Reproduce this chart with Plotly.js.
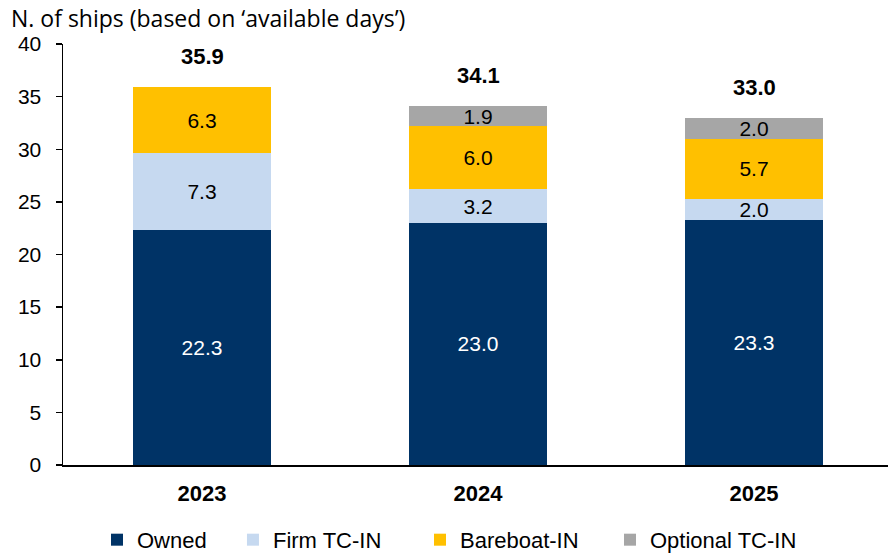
<!DOCTYPE html>
<html>
<head>
<meta charset="utf-8">
<script src="https://cdn.plot.ly/plotly-3.0.1.min.js"></script>
<style>html,body{margin:0;padding:0;background:#fff;}#chart{width:888px;height:553px;}</style>
</head>
<body>
<div id="chart"></div>
<script>
const years = ['2023', '2024', '2025'];
const owned = [22.3, 23.0, 23.3];
const firmTcIn = [7.3, 3.2, 2.0];
const bareboatIn = [6.3, 6.0, 5.7];
const optionalTcIn = [null, 1.9, 2.0];
const totals = [35.9, 34.1, 33.0];
const yTitle = 'N. of ships (based on \u2018available days\u2019)';

const seriesNames = ['Owned', 'Firm TC-IN', 'Bareboat-IN', 'Optional TC-IN'];
const seriesData = [owned, firmTcIn, bareboatIn, optionalTcIn];
const seriesColors = ['#003366', '#c6d9f0', '#ffc000', '#a6a6a6'];
const textColors = ['#ffffff', '#000000', '#000000', '#000000'];
const legendIds = ['legend', 'legend2', 'legend3', 'legend4'];
const legendX = [0.0412, 0.206, 0.4327, 0.663];

const FONT = 'Liberation Sans, Arial, sans-serif';

const traces = seriesData.map((vals, i) => ({
  type: 'bar',
  name: seriesNames[i],
  x: years,
  y: vals,
  legend: legendIds[i],
  marker: {color: seriesColors[i], line: {width: 0}},
  text: vals.map(v => v == null ? '' : v.toFixed(1)),
  textposition: 'inside',
  insidetextanchor: 'middle',
  constraintext: 'none',
  textangle: 0,
  textfont: {family: FONT, size: 21, color: textColors[i]},
  hoverinfo: 'skip'
}));

const annotations = years.map((yr, i) => ({
  x: i, y: totals[i], xref: 'x', yref: 'y',
  text: '<b>' + totals[i].toFixed(1) + '</b>',
  showarrow: false, yanchor: 'bottom', yshift: 16,
  font: {family: FONT, size: 22, color: '#000'}
}));
annotations.push({
  xref: 'paper', yref: 'paper', x: -0.065, y: 1.02, xanchor: 'left', yanchor: 'bottom',
  text: yTitle, showarrow: false,
  font: {family: 'Open Sans, sans-serif', size: 23, color: '#000'}
});

const layout = {
  width: 888, height: 553,
  margin: {l: 63, r: 0, t: 44, b: 88, autoexpand: false},
  paper_bgcolor: '#fff', plot_bgcolor: '#fff',
  barmode: 'stack',
  bargap: 0.5,
  showlegend: true,
  xaxis: {
    type: 'category', range: [-0.5036, 2.4855],
    showline: true, linecolor: '#000', linewidth: 1.5,
    ticks: '', showgrid: false, zeroline: false,
    ticklabelstandoff: 8,
    tickfont: {family: FONT, size: 22, color: '#000', weight: 'bold'}
  },
  yaxis: {
    range: [0, 40], dtick: 5, tick0: 0,
    showline: true, linecolor: '#000', linewidth: 1.5,
    ticks: 'outside', ticklen: 6, tickwidth: 1.5, tickcolor: '#000',
    showgrid: false, zeroline: false,
    ticklabelstandoff: 10,
    tickfont: {family: FONT, size: 21, color: '#000'}
  },
  annotations: annotations
};
legendIds.forEach((id, i) => {
  layout[id] = {
    orientation: 'h', x: legendX[i], xanchor: 'left', y: -0.128, yanchor: 'top',
    font: {family: FONT, size: 22, color: '#000'},
    bgcolor: 'rgba(0,0,0,0)', itemwidth: 30
  };
});

Plotly.newPlot('chart', traces, layout, {displayModeBar: false, staticPlot: true});
</script>
</body>
</html>
